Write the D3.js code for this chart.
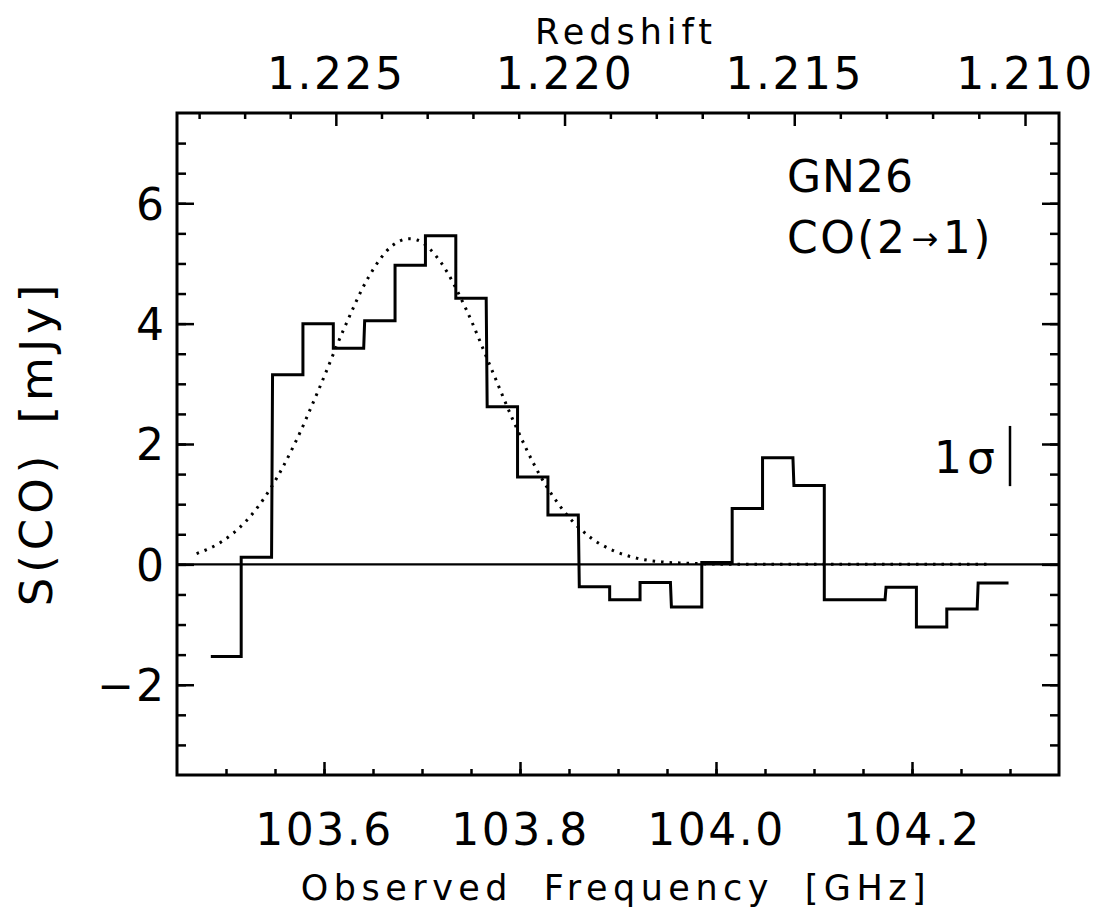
<html>
<head>
<script src="https://cdn.jsdelivr.net/npm/d3@7"></script>
<style>
  body { margin: 0; background: #fff; }
  text { font-family: "DejaVu Sans", sans-serif; fill: #000; }
</style>
</head>
<body>
<script>
// channel centres [GHz] and flux [mJy]
const freq = [103.500, 103.531, 103.563, 103.594, 103.625, 103.657, 103.688, 103.719,
              103.750, 103.782, 103.813, 103.844, 103.876, 103.907, 103.938, 103.970,
              104.001, 104.032, 104.063, 104.095, 104.126, 104.157, 104.189, 104.220,
              104.251, 104.283];
const flux = [-1.53, 0.12, 3.15, 4.00, 3.59, 4.05, 4.97, 5.46,
              4.42, 2.62, 1.45, 0.82, -0.37, -0.59, -0.30, -0.71,
              0.03, 0.93, 1.77, 1.31, -0.59, -0.59, -0.38, -1.04,
              -0.74, -0.31];

// gaussian fit
const fitFreq = [103.470, 103.495, 103.520, 103.545, 103.570, 103.595, 103.620, 103.645,
                 103.670, 103.687, 103.695, 103.720, 103.745, 103.770, 103.795, 103.820,
                 103.845, 103.870, 103.895, 103.920, 103.945, 103.970, 103.995, 104.020,
                 104.100, 104.200, 104.280];
const fitFlux = [0.18, 0.37, 0.71, 1.25, 2.00, 2.92, 3.90, 4.76,
                 5.30, 5.41, 5.39, 5.00, 4.24, 3.28, 2.32, 1.49,
                 0.88, 0.47, 0.23, 0.10, 0.04, 0.02, 0.005, 0.0,
                 0.0, 0.0, 0.0];

const freqTicks = [103.6, 103.8, 104.0, 104.2];
const fluxTicks = [-2, 0, 2, 4, 6];
const zTicks = [1.225, 1.220, 1.215, 1.210];
const restFreq = 230.538; // CO(2-1)
const sigmaFreq = 104.30;
const sigmaRange = [1.3, 2.3];

const width = 1097, height = 920;
const svg = d3.select("body").append("svg")
    .attr("width", width)
    .attr("height", height);

const x = d3.scaleLinear().domain([103.45, 104.35]).range([177, 1059]);
const y = d3.scaleLinear().domain([-3.5, 7.5]).range([775, 113]);

const freqMinor = d3.range(103.5, 104.31, 0.05);
const fluxMinor = d3.range(-3, 7.01, 0.5);
const zMinor = d3.range(1.210, 1.2285, 0.001);

function styleAxis(g) {
  g.select(".domain").remove();
  g.selectAll("line").attr("stroke-width", 2.5);
  g.attr("font-size", 44).attr("font-family", null);
}

// bottom
svg.append("g").attr("transform", "translate(0,775)")
    .call(d3.axisBottom(x).tickValues(freqMinor).tickSize(-6).tickFormat(""))
    .call(styleAxis);
svg.append("g").attr("transform", "translate(0,775)")
    .call(d3.axisBottom(x).tickValues(freqTicks).tickSize(-13).tickFormat(d3.format(".1f")))
    .call(styleAxis)
    .call(g => g.selectAll("text").attr("y", 70).attr("dy", null).attr("letter-spacing", 2.5));

// left
svg.append("g").attr("transform", "translate(177,0)")
    .call(d3.axisLeft(y).tickValues(fluxMinor).tickSize(-9).tickFormat(""))
    .call(styleAxis);
svg.append("g").attr("transform", "translate(177,0)")
    .call(d3.axisLeft(y).tickValues(fluxTicks).tickSize(-17).tickPadding(11)
        .tickFormat(d => d < 0 ? "\u2212" + Math.abs(d) : d))
    .call(styleAxis)
    .call(g => g.selectAll("text").attr("dy", "0.36em").attr("letter-spacing", 2));

// right
svg.append("g").attr("transform", "translate(1059,0)")
    .call(d3.axisLeft(y).tickValues(fluxMinor).tickSize(9).tickFormat(""))
    .call(styleAxis);
svg.append("g").attr("transform", "translate(1059,0)")
    .call(d3.axisLeft(y).tickValues(fluxTicks).tickSize(17).tickFormat(""))
    .call(styleAxis);

// top: redshift
const zx = z => x(restFreq / (1 + z));
svg.append("g").selectAll("line")
    .data(zMinor)
    .join("line")
    .attr("x1", zx).attr("x2", zx)
    .attr("y1", 113)
    .attr("y2", d => zTicks.some(t => Math.abs(t - d) < 1e-6) ? 126 : 119)
    .attr("stroke", "#000")
    .attr("stroke-width", 2.5);
svg.append("g").selectAll("text")
    .data(zTicks)
    .join("text")
    .attr("x", zx)
    .attr("y", 89)
    .attr("text-anchor", "middle")
    .attr("font-size", 44)
    .attr("letter-spacing", 2.5)
    .text(d3.format(".3f"));

// frame
svg.append("rect")
    .attr("x", 177).attr("y", 113)
    .attr("width", 1059 - 177).attr("height", 775 - 113)
    .attr("fill", "none")
    .attr("stroke", "#000")
    .attr("stroke-width", 3);

// zero line
svg.append("line")
    .attr("x1", x.range()[0]).attr("x2", x.range()[1])
    .attr("y1", y(0)).attr("y2", y(0))
    .attr("stroke", "#000")
    .attr("stroke-width", 2.3);

// fit
const fitLine = d3.line()
    .x(d => x(d[0]))
    .y(d => y(d[1]))
    .curve(d3.curveMonotoneX);
svg.append("path")
    .datum(d3.zip(fitFreq, fitFlux))
    .attr("fill", "none")
    .attr("stroke", "#000")
    .attr("stroke-width", 3)
    .attr("stroke-dasharray", "2.5 6")
    .attr("d", fitLine);

// histogram
const chan = freq[1] - freq[0];
const steps = [];
freq.forEach((f, i) => {
  steps.push([f - chan / 2, flux[i]]);
  steps.push([f + chan / 2, flux[i]]);
});
svg.append("path")
    .datum(steps)
    .attr("fill", "none")
    .attr("stroke", "#000")
    .attr("stroke-width", 3)
    .attr("stroke-linejoin", "miter")
    .attr("d", d3.line().x(d => x(d[0])).y(d => y(d[1])));

// 1 sigma bar
svg.append("line")
    .attr("x1", x(sigmaFreq)).attr("x2", x(sigmaFreq))
    .attr("y1", y(sigmaRange[0])).attr("y2", y(sigmaRange[1]))
    .attr("stroke", "#000")
    .attr("stroke-width", 2.5);
const sig = svg.append("text")
    .attr("x", 934).attr("y", 473)
    .attr("font-size", 44);
sig.append("tspan").text("1");
sig.append("tspan").attr("dx", 5).text("\u03c3");

// labels
svg.append("text")
    .attr("x", 787).attr("y", 192)
    .attr("font-size", 44)
    .attr("letter-spacing", 1)
    .text("GN26");
const co = svg.append("text")
    .attr("x", 787).attr("y", 253)
    .attr("font-size", 44)
    .attr("letter-spacing", 2.5);
co.append("tspan").text("CO(2");
co.append("tspan").attr("font-size", 32).attr("dy", -3).attr("dx", 4).text("\u2192");
co.append("tspan").attr("dy", 3).attr("dx", 2).text("1)");

svg.append("text")
    .attr("x", 616).attr("y", 900)
    .attr("text-anchor", "middle")
    .attr("font-size", 35)
    .attr("letter-spacing", 5.5)
    .attr("word-spacing", 14)
    .text("Observed Frequency [GHz]");

svg.append("text")
    .attr("x", 626).attr("y", 44)
    .attr("text-anchor", "middle")
    .attr("font-size", 35)
    .attr("letter-spacing", 5)
    .text("Redshift");

svg.append("text")
    .attr("transform", "translate(52,443) rotate(-90)")
    .attr("text-anchor", "middle")
    .attr("font-size", 45)
    .attr("letter-spacing", 5)
    .attr("word-spacing", 8)
    .text("S(CO) [mJy]");
</script>
</body>
</html>
